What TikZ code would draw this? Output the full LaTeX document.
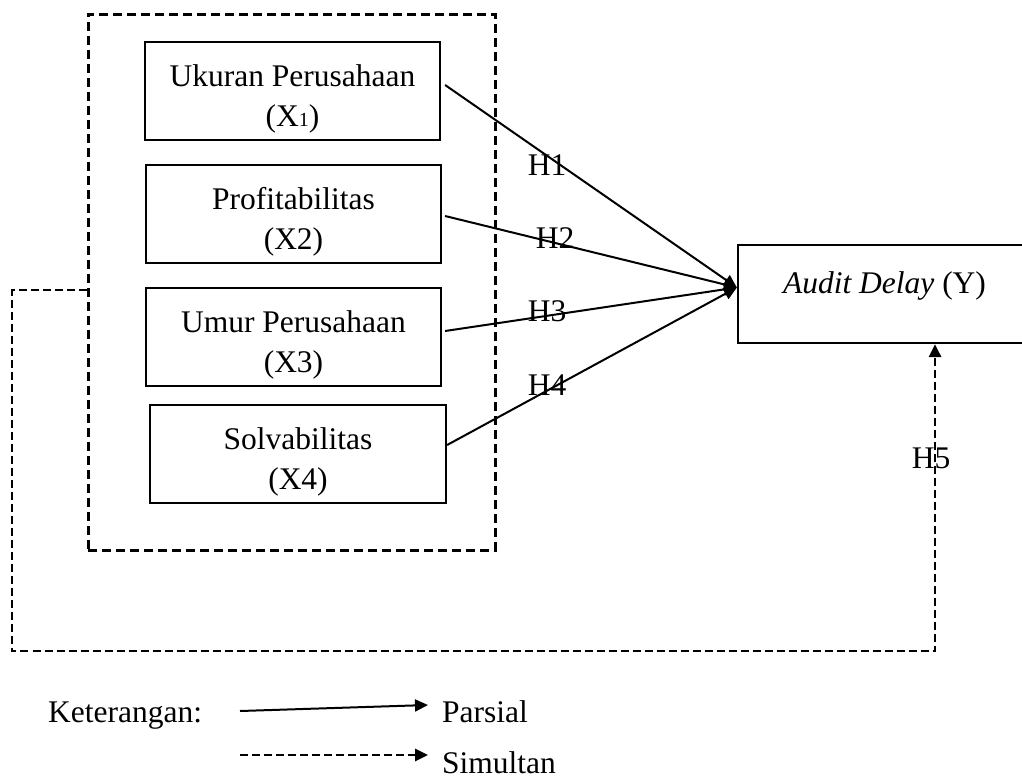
\documentclass[tikz,border=0pt]{standalone}
\usepackage{fontspec}
\setmainfont{Liberation Serif}
\usetikzlibrary{arrows.meta,calc}
\newcommand{\topstrut}{\rule{0pt}{38pt}}
\begin{document}
\begin{tikzpicture}[x=1pt,y=-1pt,
  txt/.style={font=\fontsize{31.5}{40}\selectfont, inner sep=0pt},
  varbox/.style={draw, line width=2.2pt, minimum width=295pt, minimum height=98pt, align=center, txt},
  grpbox/.style={draw, line width=3pt, dash pattern=on 9pt off 5pt, minimum width=407pt, minimum height=536pt, inner sep=0pt},
  part/.style={line width=2pt, -{Triangle[length=13pt,width=12pt]}},
  simul/.style={line width=2.8pt, dash pattern=on 8pt off 4pt, -{Triangle[length=13pt,width=12pt]}},
  hlab/.style={txt}
]
\useasboundingbox (0,0) rectangle (1022,780);

% group box
\node[grpbox] (grp) at (291.5,282) {};

% variable boxes
\node[varbox] (b1) at (292.5,91) {\topstrut Ukuran Perusahaan\\(X{\fontsize{20}{20}\selectfont 1})};
\node[varbox] (b2) at (293.5,214) {\topstrut Profitabilitas\\(X2)};
\node[varbox] (b3) at (293.5,337) {\topstrut Umur Perusahaan\\(X3)};
\node[varbox, minimum width=296pt] (b4) at (298,454) {\topstrut Solvabilitas\\(X4)};

% dependent
\node[draw, line width=2.2pt, minimum width=293pt, minimum height=98pt, inner sep=0pt] (ad) at (884.5,294) {};
\node[txt] (adlab) at (884.5,286) {\textit{Audit Delay} (Y)};

\coordinate (tip) at ([yshift=6.5pt]ad.west);

% partial arrows
\draw[part] ([xshift=4pt,yshift=6pt]b1.east) -- (tip);
\draw[part] ([xshift=3pt,yshift=-2pt]b2.east) -- (tip);
\draw[part] ([xshift=3pt,yshift=6pt]b3.east) -- (tip);
\draw[part] ([yshift=9pt]b4.east) -- (tip);

\node[hlab] (h1) at (547,165) {H1};
\node[hlab] (h2) at (555,238) {H2};
\node[hlab] (h3) at (547,311) {H3};
\node[hlab] (h4) at (547,385) {H4};

% simultaneous
\coordinate (c1) at (12,290);
\coordinate (c2) at (12,651);
\coordinate (c3) at (935,651);
\draw[simul] ([yshift=-8pt]grp.west) -- (c1) -- (c2) -- (c3) -- (c3 |- ad.south);
\node[hlab] (h5) at (931,458) {H5};

% legend
\node[txt, anchor=base west] (ket) at (48,722) {Keterangan:};
\coordinate (l1a) at (240,711);
\coordinate (l1b) at (428,705);
\draw[part] (l1a) -- (l1b);
\node[txt, anchor=base west] (par) at (442,722) {Parsial};
\coordinate (l2a) at (240,755);
\coordinate (l2b) at (428,755);
\draw[simul] (l2a) -- (l2b);
\node[txt, anchor=base west] (sim) at (442,773) {Simultan};
\end{tikzpicture}
\end{document}
